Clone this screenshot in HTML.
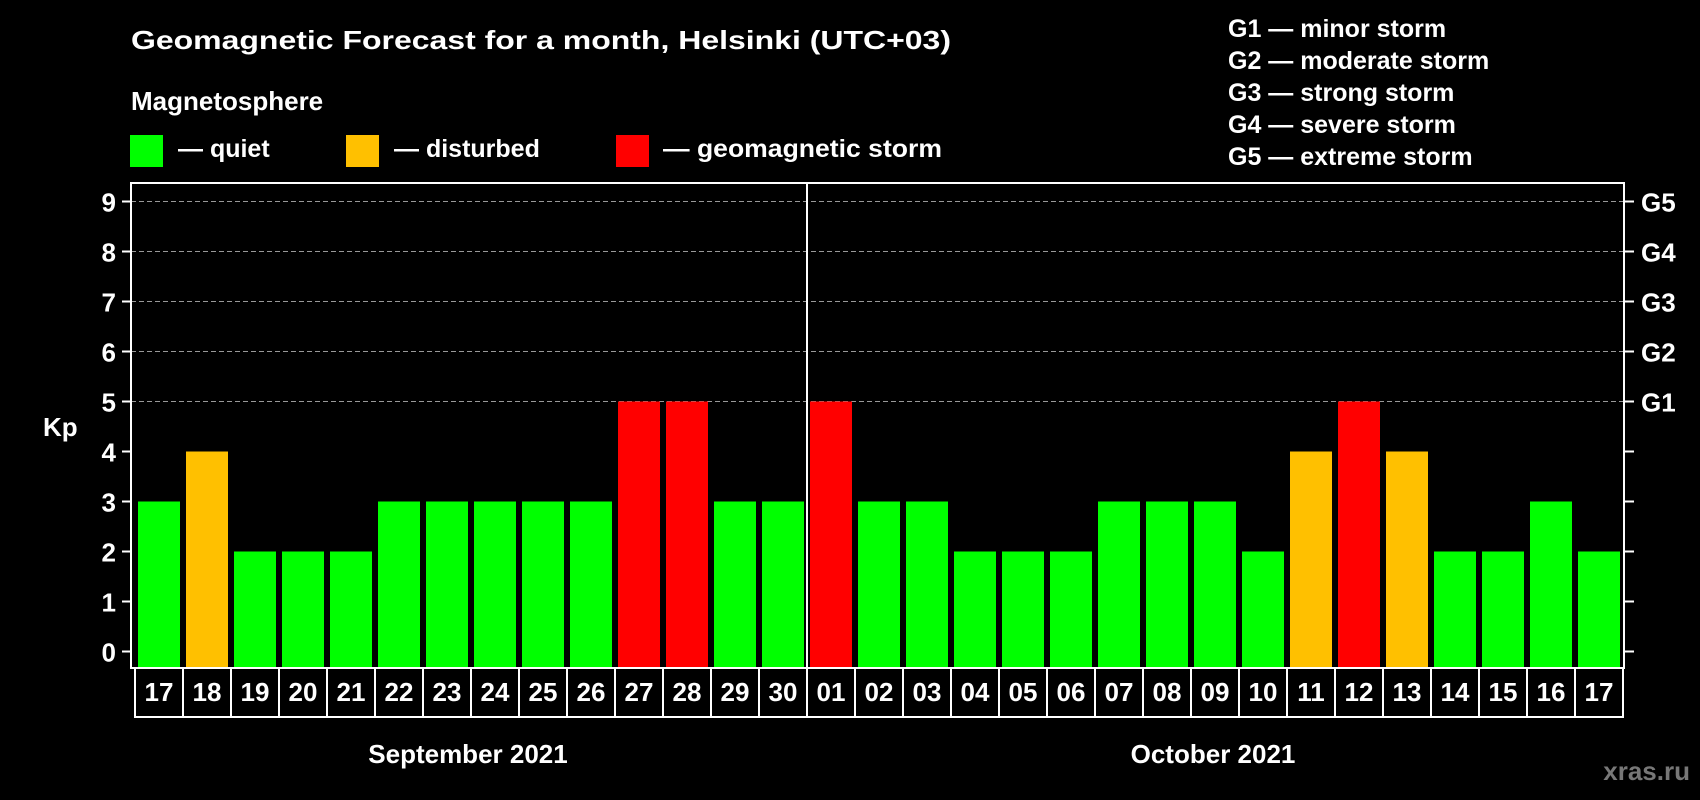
<!DOCTYPE html>
<html><head><meta charset="utf-8"><style>
html,body{margin:0;padding:0;background:#000;}
svg{display:block;font-family:"Liberation Sans",Arial,sans-serif;font-weight:bold;}
</style></head><body>
<svg id="chart" width="1700" height="800" viewBox="0 0 1700 800" xmlns="http://www.w3.org/2000/svg">
<rect x="0" y="0" width="1700" height="800" fill="#000"/>
<text x="131" y="49" fill="#fff" font-size="26" textLength="820" lengthAdjust="spacingAndGlyphs">Geomagnetic Forecast for a month, Helsinki (UTC+03)</text>
<text x="131" y="110" fill="#fff" font-size="26">Magnetosphere</text>
<g>
<rect x="130" y="135" width="33" height="32" fill="#00ff00"/>
<text x="178" y="157" fill="#fff" font-size="25">— quiet</text></g>
<g>
<rect x="346" y="135" width="33" height="32" fill="#ffc000"/>
<text x="394" y="157" fill="#fff" font-size="25">— disturbed</text></g>
<g>
<rect x="616" y="135" width="33" height="32" fill="#ff0000"/>
<text x="663" y="157" fill="#fff" font-size="25" textLength="279" lengthAdjust="spacingAndGlyphs">— geomagnetic storm</text></g>
<g font-size="25" fill="#fff">
<text x="1228" y="37">G1 — minor storm</text>
<text x="1228" y="69">G2 — moderate storm</text>
<text x="1228" y="101">G3 — strong storm</text>
<text x="1228" y="133">G4 — severe storm</text>
<text x="1228" y="165">G5 — extreme storm</text>
</g>
<text x="43" y="436" fill="#fff" font-size="26">Kp</text>
<g id="grid"></g><g id="bars"></g><g id="axes"></g><g id="cells"></g>
<text x="468" y="763" fill="#fff" font-size="26" text-anchor="middle">September 2021</text>
<text x="1213" y="763" fill="#fff" font-size="26" text-anchor="middle">October 2021</text>
<text x="1690" y="780" fill="#777" font-size="26" text-anchor="end">xras.ru</text>
</svg>
<script>
const days = ["17","18","19","20","21","22","23","24","25","26","27","28","29","30","01","02","03","04","05","06","07","08","09","10","11","12","13","14","15","16","17"];
const kp = [3,4,2,2,2,3,3,3,3,3,5,5,3,3,5,3,3,2,2,2,3,3,3,2,4,5,4,2,2,3,2];
const yTicks = [0,1,2,3,4,5,6,7,8,9];
const gLabels = ["G1","G2","G3","G4","G5"];
const gLevels = [5,6,7,8,9];
const monthStartIndex = 14;

const NS = "http://www.w3.org/2000/svg";
const plotL = 131, plotR = 1624, plotT = 183, plotB = 668;
const slot0 = 135, slotW = 48;
function y(v){ return 651.5 - v*50; }
function xs(i){ return slot0 + i*slotW; }
function mk(tag, attrs, parent){ const e = document.createElementNS(NS, tag); for (const k in attrs) e.setAttribute(k, attrs[k]); parent.appendChild(e); return e; }
function color(v){ return v >= 5 ? "#ff0000" : (v >= 4 ? "#ffc000" : "#00ff00"); }

const grid = document.getElementById("grid");
yTicks.forEach(t => {
  if (t >= 5) {
    const l = mk("line", {x1: plotL, x2: plotR, y1: y(t), y2: y(t), stroke: "#999", "stroke-width": 1, "stroke-dasharray": "5 3"}, grid);
    
    
  }
  const tl = mk("line", {x1: 122, x2: plotL, y1: y(t), y2: y(t), stroke: "#fff", "stroke-width": 2}, grid);
  
  
  const tr = mk("line", {x1: plotR, x2: 1634, y1: y(t), y2: y(t), stroke: "#fff", "stroke-width": 2}, grid);
  
  
  const tx = mk("text", {x: 116, y: y(t) + 10, fill: "#fff", "font-size": 26, "text-anchor": "end"}, grid);
  tx.textContent = t;
  
  
});
gLabels.forEach((g, i) => {
  const tx = mk("text", {x: 1641, y: y(gLevels[i]) + 10, fill: "#fff", "font-size": 26}, grid);
  tx.textContent = g;
  
  
});

const bars = document.getElementById("bars");
kp.forEach((v, i) => {
  const b = mk("rect", {x: xs(i) + 3, y: y(v), width: 42, height: plotB - y(v), fill: color(v)}, bars);
  
  
});

const axes = document.getElementById("axes");
const frame = mk("rect", {x: plotL, y: plotT, width: plotR - plotL, height: plotB - plotT, fill: "none", stroke: "#fff", "stroke-width": 2}, axes);


const div = mk("line", {x1: xs(monthStartIndex), x2: xs(monthStartIndex), y1: plotT, y2: plotB, stroke: "#fff", "stroke-width": 2}, axes);



const cells = document.getElementById("cells");
days.forEach((d, i) => {
  const r = mk("rect", {x: xs(i), y: plotB, width: slotW, height: 49, fill: "#000", stroke: "#fff", "stroke-width": 2}, cells);
  
  
  const t = mk("text", {x: xs(i) + slotW/2, y: 701, fill: "#fff", "font-size": 26, "text-anchor": "middle"}, cells);
  t.textContent = d;
  
  
});
</script>
</body></html>
